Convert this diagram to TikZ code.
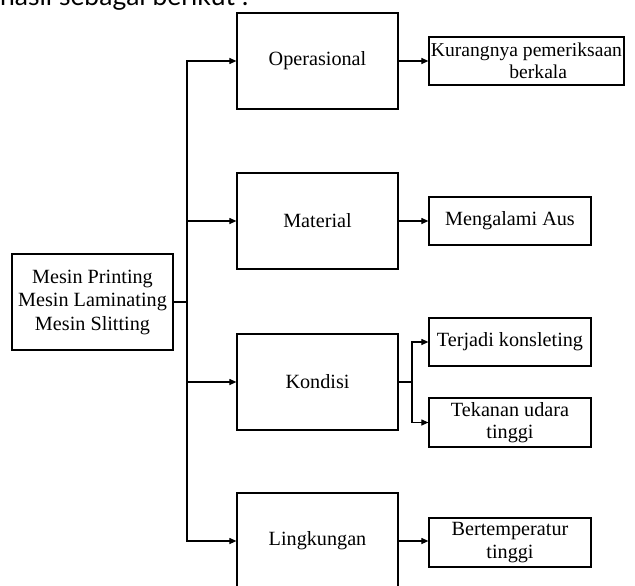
\documentclass[tikz,border=0pt]{standalone}
\usepackage{fontspec}
\setmainfont{Liberation Serif}
\newfontfamily\topfont{Lato}
\usetikzlibrary{arrows.meta}
\begin{document}
\begin{tikzpicture}[x=1pt,y=-1pt,
  box/.style={draw,line width=1.2pt,inner sep=0pt,align=center,font=\fontsize{20.2}{23.5}\selectfont},
  midbox/.style={box,minimum width=161pt,minimum height=96pt},
  leafbox/.style={box,minimum width=162pt,minimum height=48pt},
  conn/.style={line width=1.1pt},
  arr/.style={conn,-{Triangle[length=7pt,width=6pt]}}]
\useasboundingbox (0,0) rectangle (635,586);
\node[anchor=base west,font=\topfont\fontsize{26.5}{30}\selectfont,inner sep=0pt] (intro) at (0,6) {hasil sebagai berikut :};
\node[box,minimum width=161pt,minimum height=96pt] (src) at (92.5,302) {Mesin Printing\\Mesin Laminating\\Mesin Slitting};
\node[midbox] (ops) at (317.5,61) {Operasional};
\node[midbox] (mat) at (317.5,221) {Material};
\node[midbox] (kon) at (317.5,382) {Kondisi};
\node[midbox] (lin) at (317.5,541) {Lingkungan};
\node[box,minimum width=195pt,minimum height=48pt,font=\fontsize{19.6}{22}\selectfont] (kur) at (526.5,61) {Kurangnya pemeriksaan\\\hspace*{1.2em}berkala};
\node[leafbox] (aus) at (510,221) {Mengalami Aus};
\node[leafbox] (ter) at (510,342) {Terjadi konsleting};
\node[leafbox,minimum height=49pt,font=\fontsize{20.2}{22.5}\selectfont] (tek) at (510,422.5) {Tekanan udara\\tinggi};
\node[leafbox,minimum height=49pt,font=\fontsize{20.2}{22.5}\selectfont] (ber) at (510,542.5) {Bertemperatur\\tinggi};
\coordinate (j) at (187,302);
\coordinate (k) at (412,382);
\draw[conn] (src.east) -- (j);
\draw[arr] (j) |- (ops.west);
\draw[arr] (j) |- (mat.west);
\draw[arr] (j) |- (kon.west);
\draw[arr] (j) |- (lin.west);
\draw[arr] (ops.east) -- (kur.west);
\draw[arr] (mat.east) -- (aus.west);
\draw[arr] (lin.east) -- (ber.west |- lin.east);
\draw[conn] (kon.east) -- (k);
\draw[arr] (k) |- (ter.west);
\draw[arr] (k) |- (tek.west);
\end{tikzpicture}
\end{document}
